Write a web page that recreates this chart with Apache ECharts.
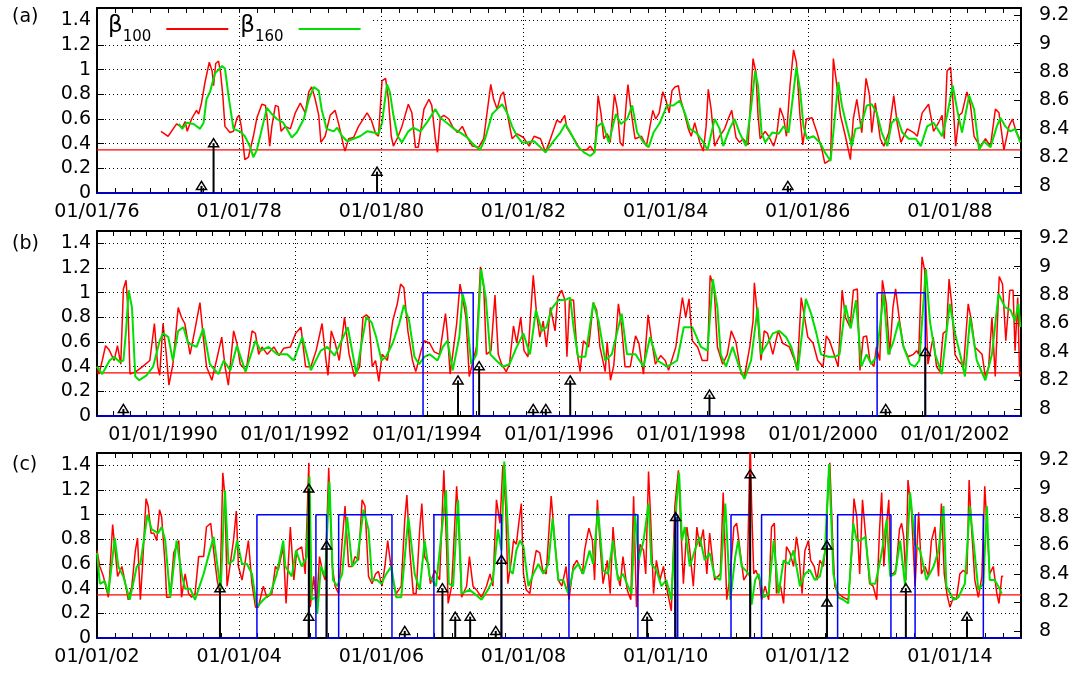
<!DOCTYPE html>
<html><head><meta charset="utf-8">
<script src="https://cdn.jsdelivr.net/npm/echarts@6/dist/echarts.min.js"></script>
<style>html,body{margin:0;padding:0;background:#fff}#c{width:1086px;height:673px}</style>
</head><body><div id="c"></div>
<script>
// ---------------- data ----------------
const THRESHOLD = 0.35;
const RANGE_A = [1976, 1989], RANGE_B = [1989, 2003], RANGE_C = [2002, 2015];
const TICKS_A = [1976,1978,1980,1982,1984,1986,1988];
const LABELS_A = ['01/01/76','01/01/78','01/01/80','01/01/82','01/01/84','01/01/86','01/01/88'];
const TICKS_B = [1990,1992,1994,1996,1998,2000,2002];
const LABELS_B = ['01/01/1990','01/01/1992','01/01/1994','01/01/1996','01/01/1998','01/01/2000','01/01/2002'];
const TICKS_C = [2002,2004,2006,2008,2010,2012,2014];
const LABELS_C = ['01/01/02','01/01/04','01/01/06','01/01/08','01/01/10','01/01/12','01/01/14'];

const RED_A = [[1976.90,0.50],[1977.0,0.46],[1977.12,0.56],[1977.20,0.53],[1977.24,0.58],[1977.27,0.50],[1977.33,0.60],[1977.40,0.67],[1977.43,0.64],[1977.47,0.73],[1977.52,0.90],[1977.58,1.06],[1977.62,0.99],[1977.64,0.87],[1977.67,1.05],[1977.71,1.07],[1977.74,0.97],[1977.77,0.79],[1977.80,0.54],[1977.87,0.49],[1977.92,0.50],[1977.97,0.61],[1978.0,0.63],[1978.03,0.54],[1978.08,0.27],[1978.13,0.29],[1978.20,0.46],[1978.25,0.61],[1978.32,0.72],[1978.37,0.71],[1978.39,0.63],[1978.43,0.38],[1978.46,0.54],[1978.51,0.71],[1978.55,0.70],[1978.59,0.50],[1978.65,0.54],[1978.72,0.52],[1978.79,0.65],[1978.86,0.73],[1978.93,0.65],[1978.98,0.82],[1979.02,0.86],[1979.07,0.76],[1979.12,0.63],[1979.15,0.41],[1979.21,0.46],[1979.28,0.63],[1979.35,0.67],[1979.40,0.56],[1979.47,0.38],[1979.49,0.34],[1979.54,0.44],[1979.61,0.45],[1979.68,0.54],[1979.80,0.65],[1979.86,0.59],[1979.92,0.48],[1979.96,0.46],[1980.01,0.91],[1980.06,0.93],[1980.10,0.76],[1980.14,0.46],[1980.17,0.38],[1980.23,0.45],[1980.29,0.54],[1980.38,0.72],[1980.43,0.65],[1980.48,0.37],[1980.52,0.37],[1980.60,0.68],[1980.67,0.76],[1980.71,0.71],[1980.76,0.44],[1980.79,0.33],[1980.83,0.61],[1980.88,0.63],[1980.95,0.60],[1981.00,0.54],[1981.07,0.49],[1981.14,0.54],[1981.21,0.45],[1981.28,0.38],[1981.37,0.37],[1981.44,0.44],[1981.54,0.88],[1981.58,0.76],[1981.63,0.68],[1981.68,0.79],[1981.72,0.82],[1981.77,0.65],[1981.84,0.44],[1981.91,0.48],[1982.0,0.45],[1982.08,0.38],[1982.15,0.46],[1982.24,0.44],[1982.31,0.33],[1982.38,0.44],[1982.47,0.59],[1982.52,0.57],[1982.58,0.63],[1982.61,0.53],[1982.71,0.44],[1982.80,0.35],[1982.89,0.35],[1982.94,0.38],[1983.0,0.33],[1983.02,0.49],[1983.05,0.79],[1983.09,0.65],[1983.13,0.44],[1983.18,0.48],[1983.22,0.41],[1983.28,0.80],[1983.32,0.68],[1983.36,0.41],[1983.40,0.38],[1983.45,0.76],[1983.47,0.88],[1983.52,0.64],[1983.57,0.44],[1983.66,0.46],[1983.73,0.38],[1983.78,0.54],[1983.82,0.67],[1983.86,0.60],[1983.91,0.65],[1983.96,0.82],[1984.0,0.76],[1984.05,0.65],[1984.09,0.83],[1984.13,0.86],[1984.18,0.87],[1984.21,0.76],[1984.25,0.68],[1984.32,0.52],[1984.36,0.46],[1984.41,0.57],[1984.48,0.41],[1984.53,0.34],[1984.57,0.54],[1984.60,0.84],[1984.64,0.68],[1984.69,0.38],[1984.76,0.46],[1984.83,0.52],[1984.88,0.60],[1984.93,0.67],[1984.99,0.45],[1985.04,0.41],[1985.09,0.44],[1985.16,0.39],[1985.20,0.79],[1985.23,1.09],[1985.27,0.98],[1985.30,0.63],[1985.33,0.44],[1985.40,0.50],[1985.45,0.46],[1985.52,0.38],[1985.56,0.46],[1985.61,0.69],[1985.66,0.61],[1985.70,0.46],[1985.75,0.87],[1985.80,1.16],[1985.84,1.06],[1985.89,0.63],[1985.93,0.39],[1985.98,0.60],[1986.06,0.61],[1986.13,0.49],[1986.20,0.35],[1986.24,0.24],[1986.32,0.27],[1986.36,1.09],[1986.41,0.87],[1986.46,0.63],[1986.53,0.46],[1986.60,0.27],[1986.64,0.60],[1986.69,0.76],[1986.76,0.49],[1986.82,0.93],[1986.87,0.79],[1986.90,0.49],[1986.95,0.73],[1987.02,0.44],[1987.07,0.38],[1987.14,0.49],[1987.21,0.79],[1987.26,0.56],[1987.31,0.41],[1987.40,0.52],[1987.49,0.49],[1987.54,0.46],[1987.61,0.65],[1987.70,0.72],[1987.77,0.50],[1987.84,0.57],[1987.89,0.63],[1987.92,0.44],[1987.96,0.99],[1988.01,1.02],[1988.05,0.68],[1988.08,0.38],[1988.13,0.63],[1988.17,0.65],[1988.24,0.82],[1988.29,0.71],[1988.34,0.46],[1988.39,0.41],[1988.43,0.38],[1988.50,0.44],[1988.57,0.38],[1988.64,0.68],[1988.69,0.65],[1988.76,0.35],[1988.83,0.54],[1988.88,0.60],[1988.93,0.50],[1988.98,0.44]];

const GREEN_A = [[1977.15,0.56],[1977.20,0.52],[1977.26,0.57],[1977.36,0.56],[1977.45,0.52],[1977.50,0.57],[1977.54,0.76],[1977.59,0.82],[1977.66,0.97],[1977.76,1.03],[1977.80,1.01],[1977.85,0.79],[1977.92,0.52],[1978.01,0.50],[1978.08,0.46],[1978.15,0.38],[1978.20,0.29],[1978.25,0.35],[1978.32,0.52],[1978.39,0.69],[1978.46,0.64],[1978.53,0.60],[1978.62,0.57],[1978.67,0.52],[1978.74,0.45],[1978.81,0.49],[1978.91,0.60],[1978.98,0.76],[1979.05,0.86],[1979.12,0.83],[1979.16,0.68],[1979.23,0.52],[1979.33,0.50],[1979.38,0.53],[1979.45,0.46],[1979.52,0.42],[1979.61,0.44],[1979.70,0.46],[1979.80,0.50],[1979.89,0.49],[1979.96,0.48],[1980.01,0.57],[1980.08,0.88],[1980.12,0.82],[1980.17,0.63],[1980.23,0.46],[1980.29,0.41],[1980.38,0.50],[1980.45,0.53],[1980.55,0.50],[1980.64,0.57],[1980.76,0.68],[1980.83,0.61],[1980.92,0.57],[1981.02,0.52],[1981.11,0.49],[1981.21,0.45],[1981.30,0.39],[1981.39,0.35],[1981.46,0.44],[1981.56,0.64],[1981.63,0.68],[1981.70,0.72],[1981.77,0.65],[1981.84,0.54],[1981.91,0.46],[1981.98,0.41],[1982.05,0.41],[1982.15,0.42],[1982.24,0.37],[1982.31,0.33],[1982.41,0.41],[1982.52,0.49],[1982.59,0.56],[1982.66,0.49],[1982.76,0.38],[1982.85,0.33],[1982.94,0.30],[1983.0,0.33],[1983.04,0.54],[1983.11,0.57],[1983.20,0.41],[1983.30,0.64],[1983.37,0.56],[1983.46,0.60],[1983.53,0.71],[1983.60,0.49],[1983.69,0.41],[1983.76,0.37],[1983.83,0.49],[1983.92,0.57],[1984.02,0.71],[1984.11,0.71],[1984.20,0.75],[1984.27,0.65],[1984.34,0.52],[1984.43,0.49],[1984.52,0.42],[1984.59,0.35],[1984.69,0.60],[1984.76,0.52],[1984.81,0.38],[1984.90,0.52],[1984.97,0.60],[1985.04,0.49],[1985.13,0.38],[1985.20,0.68],[1985.26,0.99],[1985.30,0.87],[1985.35,0.49],[1985.40,0.41],[1985.50,0.49],[1985.59,0.48],[1985.66,0.54],[1985.73,0.49],[1985.77,0.68],[1985.84,1.02],[1985.89,0.84],[1985.94,0.54],[1985.99,0.44],[1986.08,0.46],[1986.17,0.41],[1986.24,0.33],[1986.32,0.26],[1986.36,0.49],[1986.43,0.90],[1986.48,0.71],[1986.55,0.54],[1986.62,0.38],[1986.67,0.52],[1986.74,0.53],[1986.83,0.71],[1986.90,0.72],[1986.97,0.65],[1987.04,0.49],[1987.12,0.38],[1987.18,0.57],[1987.26,0.61],[1987.33,0.49],[1987.42,0.44],[1987.52,0.44],[1987.59,0.38],[1987.68,0.54],[1987.77,0.57],[1987.89,0.46],[1987.96,0.63],[1988.04,0.87],[1988.10,0.68],[1988.17,0.49],[1988.27,0.79],[1988.34,0.68],[1988.41,0.35],[1988.48,0.42],[1988.57,0.37],[1988.66,0.54],[1988.71,0.61],[1988.78,0.54],[1988.85,0.50],[1988.92,0.52],[1988.99,0.41]];

const RED_B = [[1989.0,0.40],[1989.03,0.34],[1989.08,0.45],[1989.13,0.57],[1989.18,0.54],[1989.26,0.45],[1989.31,0.57],[1989.36,0.42],[1989.40,1.03],[1989.44,1.10],[1989.47,0.86],[1989.50,0.34],[1989.59,0.36],[1989.69,0.40],[1989.80,0.45],[1989.87,0.75],[1989.92,0.40],[1989.95,0.33],[1990.0,0.75],[1990.05,0.50],[1990.09,0.25],[1990.15,0.42],[1990.23,0.88],[1990.28,0.80],[1990.33,0.75],[1990.41,0.50],[1990.48,0.69],[1990.56,0.92],[1990.61,0.64],[1990.66,0.40],[1990.74,0.29],[1990.81,0.45],[1990.89,0.64],[1990.94,0.40],[1990.99,0.25],[1991.07,0.69],[1991.12,0.59],[1991.17,0.42],[1991.26,0.37],[1991.35,0.69],[1991.40,0.67],[1991.45,0.50],[1991.50,0.56],[1991.58,0.50],[1991.68,0.56],[1991.76,0.49],[1991.83,0.55],[1991.93,0.56],[1992.01,0.67],[1992.09,0.72],[1992.16,0.40],[1992.24,0.40],[1992.32,0.53],[1992.41,0.75],[1992.47,0.45],[1992.50,0.33],[1992.55,0.69],[1992.60,0.61],[1992.67,0.45],[1992.75,0.80],[1992.82,0.50],[1992.90,0.32],[1992.98,0.40],[1993.03,0.80],[1993.08,0.82],[1993.12,0.80],[1993.17,0.40],[1993.22,0.45],[1993.27,0.28],[1993.32,0.50],[1993.40,0.45],[1993.48,0.77],[1993.55,0.91],[1993.60,1.07],[1993.65,1.04],[1993.71,0.69],[1993.78,0.45],[1993.83,0.36],[1993.91,0.53],[1993.96,0.61],[1994.04,0.59],[1994.11,0.52],[1994.19,0.50],[1994.28,0.83],[1994.31,0.67],[1994.35,0.34],[1994.39,0.50],[1994.45,0.75],[1994.50,1.07],[1994.54,0.96],[1994.59,0.80],[1994.64,0.32],[1994.70,0.45],[1994.75,0.56],[1994.81,1.21],[1994.86,1.04],[1994.90,0.50],[1994.97,0.53],[1995.03,0.98],[1995.08,0.50],[1995.13,0.42],[1995.20,0.36],[1995.25,0.42],[1995.31,0.73],[1995.36,0.59],[1995.42,0.80],[1995.47,0.53],[1995.53,0.48],[1995.57,0.83],[1995.61,1.14],[1995.66,0.83],[1995.71,0.64],[1995.76,0.77],[1995.81,0.56],[1995.87,0.88],[1995.94,0.69],[1995.98,0.96],[1996.04,1.02],[1996.09,0.94],[1996.12,0.48],[1996.16,0.94],[1996.22,0.94],[1996.27,0.53],[1996.32,0.36],[1996.37,0.61],[1996.45,0.56],[1996.52,0.92],[1996.57,0.86],[1996.62,0.56],[1996.70,0.36],[1996.73,0.60],[1996.78,0.29],[1996.83,0.41],[1996.90,0.91],[1996.95,0.72],[1997.0,0.40],[1997.08,0.40],[1997.16,0.65],[1997.21,0.59],[1997.28,0.34],[1997.35,0.82],[1997.41,0.59],[1997.46,0.42],[1997.54,0.49],[1997.61,0.45],[1997.66,0.37],[1997.77,0.56],[1997.87,0.96],[1997.92,0.80],[1997.97,0.95],[1998.02,0.61],[1998.10,0.56],[1998.17,0.45],[1998.25,0.45],[1998.29,1.14],[1998.35,1.04],[1998.40,0.56],[1998.48,0.42],[1998.55,0.50],[1998.61,0.69],[1998.68,0.60],[1998.76,0.34],[1998.81,0.32],[1998.89,0.56],[1998.94,0.77],[1998.96,1.08],[1999.01,0.80],[1999.06,0.45],[1999.11,0.69],[1999.16,0.67],[1999.24,0.50],[1999.32,0.69],[1999.39,0.59],[1999.49,0.56],[1999.57,0.45],[1999.61,0.37],[1999.67,0.96],[1999.72,0.80],[1999.77,0.64],[1999.85,0.59],[1999.92,0.45],[2000.0,0.40],[2000.05,0.65],[2000.10,0.61],[2000.18,0.48],[2000.23,0.40],[2000.29,1.02],[2000.34,0.80],[2000.41,0.72],[2000.46,1.02],[2000.52,1.03],[2000.56,0.37],[2000.61,0.64],[2000.66,0.65],[2000.71,0.45],[2000.77,0.40],[2000.81,0.56],[2000.86,0.45],[2000.90,1.10],[2000.96,0.91],[2001.01,0.50],[2001.06,0.88],[2001.10,1.03],[2001.16,0.77],[2001.22,0.56],[2001.29,0.48],[2001.37,0.50],[2001.42,0.53],[2001.45,0.50],[2001.50,1.29],[2001.54,1.18],[2001.59,0.42],[2001.67,0.64],[2001.72,0.40],[2001.77,0.36],[2001.82,0.67],[2001.87,0.69],[2001.91,1.11],[2001.95,0.91],[2002.0,0.50],[2002.05,0.45],[2002.13,0.40],[2002.20,0.91],[2002.25,0.77],[2002.30,0.56],[2002.41,0.50],[2002.46,0.32],[2002.51,0.40],[2002.56,0.80],[2002.61,0.32],[2002.67,1.13],[2002.72,1.07],[2002.77,0.61],[2002.83,1.02],[2002.88,1.02],[2002.91,0.53],[2002.95,0.96],[2002.98,0.32]];

const GREEN_B = [[1989.0,0.40],[1989.08,0.34],[1989.19,0.45],[1989.26,0.48],[1989.34,0.44],[1989.40,0.45],[1989.44,0.69],[1989.48,1.02],[1989.53,0.88],[1989.58,0.32],[1989.64,0.29],[1989.75,0.33],[1989.85,0.40],[1989.95,0.61],[1990.0,0.67],[1990.08,0.64],[1990.15,0.45],[1990.23,0.69],[1990.31,0.72],[1990.38,0.59],[1990.51,0.56],[1990.61,0.71],[1990.71,0.42],[1990.84,0.34],[1990.92,0.45],[1991.02,0.37],[1991.12,0.57],[1991.25,0.36],[1991.40,0.61],[1991.48,0.53],[1991.60,0.56],[1991.73,0.50],[1991.88,0.50],[1991.98,0.45],[1992.11,0.64],[1992.24,0.37],[1992.39,0.53],[1992.49,0.56],[1992.60,0.49],[1992.80,0.72],[1992.93,0.34],[1993.0,0.56],[1993.08,0.80],[1993.16,0.76],[1993.23,0.64],[1993.31,0.45],[1993.38,0.48],[1993.48,0.59],[1993.58,0.75],[1993.65,0.90],[1993.73,0.77],[1993.81,0.48],[1993.88,0.42],[1993.96,0.48],[1994.04,0.50],[1994.16,0.45],[1994.24,0.56],[1994.31,0.61],[1994.39,0.37],[1994.49,0.64],[1994.54,0.99],[1994.59,0.88],[1994.67,0.42],[1994.75,0.50],[1994.82,1.19],[1994.89,0.96],[1994.96,0.50],[1995.05,0.45],[1995.15,0.40],[1995.25,0.42],[1995.36,0.56],[1995.46,0.67],[1995.56,0.50],[1995.65,0.86],[1995.74,0.69],[1995.81,0.72],[1995.89,0.87],[1995.99,0.94],[1996.09,0.94],[1996.17,0.96],[1996.22,0.72],[1996.29,0.48],[1996.40,0.48],[1996.52,0.92],[1996.60,0.77],[1996.70,0.45],[1996.80,0.50],[1996.95,0.83],[1997.03,0.50],[1997.16,0.50],[1997.28,0.40],[1997.38,0.64],[1997.49,0.45],[1997.64,0.40],[1997.79,0.45],[1997.89,0.72],[1998.02,0.72],[1998.15,0.56],[1998.25,0.53],[1998.33,1.11],[1998.40,0.88],[1998.45,0.50],[1998.53,0.40],[1998.63,0.56],[1998.73,0.40],[1998.81,0.30],[1998.91,0.45],[1999.01,0.88],[1999.06,0.50],[1999.16,0.59],[1999.24,0.67],[1999.34,0.69],[1999.44,0.64],[1999.52,0.56],[1999.62,0.37],[1999.74,0.95],[1999.82,0.83],[1999.90,0.67],[1999.97,0.50],[2000.08,0.48],[2000.18,0.48],[2000.25,0.50],[2000.34,0.90],[2000.42,0.71],[2000.50,0.94],[2000.58,0.40],[2000.66,0.50],[2000.73,0.42],[2000.81,0.48],[2000.92,0.99],[2000.99,0.50],[2001.06,0.59],[2001.15,0.77],[2001.22,0.56],[2001.32,0.42],[2001.39,0.40],[2001.46,0.45],[2001.52,0.91],[2001.56,1.19],[2001.62,0.77],[2001.70,0.50],[2001.80,0.34],[2001.92,0.91],[2002.0,0.67],[2002.10,0.45],[2002.15,0.32],[2002.23,0.80],[2002.33,0.45],[2002.46,0.29],[2002.56,0.50],[2002.66,0.99],[2002.76,0.88],[2002.84,0.86],[2002.91,0.77],[2002.96,0.91],[2002.99,0.72]];

const RED_C = [[2002.0,0.71],[2002.04,0.58],[2002.09,0.50],[2002.16,0.33],[2002.22,0.92],[2002.25,0.74],[2002.29,0.50],[2002.35,0.58],[2002.39,0.47],[2002.44,0.31],[2002.49,0.42],[2002.54,0.71],[2002.57,0.81],[2002.61,0.31],[2002.64,0.58],[2002.69,1.13],[2002.72,1.07],[2002.76,0.85],[2002.80,0.85],[2002.84,0.79],[2002.88,1.04],[2002.91,0.98],[2002.96,0.58],[2002.98,0.33],[2003.03,0.33],[2003.08,0.69],[2003.15,0.79],[2003.19,0.33],[2003.24,0.52],[2003.29,0.36],[2003.33,0.33],[2003.38,0.36],[2003.43,0.66],[2003.50,0.66],[2003.54,0.90],[2003.60,0.93],[2003.64,0.71],[2003.69,0.47],[2003.73,0.36],[2003.77,1.34],[2003.80,1.15],[2003.83,0.42],[2003.87,0.58],[2003.92,0.79],[2003.96,1.03],[2003.99,0.58],[2004.04,0.47],[2004.08,0.60],[2004.13,0.79],[2004.18,0.44],[2004.23,0.25],[2004.27,0.25],[2004.34,0.42],[2004.39,0.33],[2004.46,0.36],[2004.51,0.58],[2004.55,0.55],[2004.62,0.74],[2004.66,0.28],[2004.72,0.90],[2004.77,0.47],[2004.81,0.71],[2004.88,0.74],[2004.93,0.52],[2004.98,1.42],[2005.0,0.25],[2005.05,0.50],[2005.09,0.25],[2005.13,0.66],[2005.18,0.52],[2005.21,0.47],[2005.26,1.38],[2005.31,0.58],[2005.35,0.42],[2005.40,0.36],[2005.45,0.79],[2005.49,1.07],[2005.54,0.58],[2005.59,0.58],[2005.63,0.66],[2005.68,0.63],[2005.73,1.12],[2005.77,1.07],[2005.82,0.50],[2005.87,0.44],[2005.92,0.52],[2005.96,0.54],[2006.01,0.42],[2006.05,0.58],[2006.09,0.79],[2006.16,0.47],[2006.21,0.36],[2006.28,0.42],[2006.33,0.96],[2006.36,1.16],[2006.40,0.71],[2006.45,0.36],[2006.49,0.36],[2006.54,0.88],[2006.57,1.09],[2006.61,0.66],[2006.66,0.60],[2006.69,0.44],[2006.75,0.55],[2006.82,0.47],[2006.88,1.36],[2006.92,0.71],[2006.94,0.28],[2006.99,0.42],[2007.06,1.23],[2007.09,0.90],[2007.13,0.33],[2007.20,0.42],[2007.24,0.66],[2007.29,0.42],[2007.34,0.39],[2007.41,0.33],[2007.48,0.42],[2007.53,0.52],[2007.57,0.42],[2007.62,1.12],[2007.67,0.93],[2007.71,1.40],[2007.75,1.07],[2007.78,0.44],[2007.83,0.63],[2007.86,0.79],[2007.90,0.76],[2007.94,0.96],[2007.97,1.09],[2008.0,0.52],[2008.04,0.39],[2008.09,0.36],[2008.14,0.58],[2008.18,0.71],[2008.23,0.69],[2008.27,0.55],[2008.32,0.52],[2008.39,1.15],[2008.44,0.79],[2008.49,0.47],[2008.54,0.42],[2008.60,0.58],[2008.64,0.31],[2008.70,0.58],[2008.75,0.63],[2008.79,0.58],[2008.83,0.52],[2008.86,0.71],[2008.92,0.89],[2008.97,0.79],[2009.0,0.47],[2009.04,1.12],[2009.08,0.74],[2009.12,0.44],[2009.18,0.63],[2009.22,0.36],[2009.26,0.90],[2009.31,0.55],[2009.36,0.42],[2009.40,0.66],[2009.46,0.39],[2009.51,0.31],[2009.55,1.15],[2009.59,0.25],[2009.64,0.76],[2009.69,0.71],[2009.72,0.52],[2009.76,1.35],[2009.79,0.96],[2009.83,0.36],[2009.87,0.63],[2009.92,0.47],[2009.97,0.58],[2010.01,0.42],[2010.08,0.22],[2010.13,1.07],[2010.18,1.36],[2010.21,0.96],[2010.25,0.44],[2010.30,0.90],[2010.34,0.71],[2010.39,0.42],[2010.44,0.90],[2010.48,0.74],[2010.53,0.88],[2010.58,0.52],[2010.62,0.85],[2010.69,0.47],[2010.77,0.52],[2010.81,1.18],[2010.86,0.31],[2010.91,0.52],[2010.96,0.90],[2011.0,0.93],[2011.03,0.79],[2011.10,0.47],[2011.15,0.52],[2011.19,1.60],[2011.21,1.07],[2011.24,0.52],[2011.27,0.55],[2011.32,0.47],[2011.35,0.31],[2011.40,0.42],[2011.45,0.31],[2011.49,0.90],[2011.53,0.93],[2011.56,0.36],[2011.61,0.44],[2011.66,0.28],[2011.70,0.74],[2011.75,0.69],[2011.80,0.58],[2011.84,0.82],[2011.87,0.71],[2011.92,0.36],[2011.96,0.71],[2012.01,0.79],[2012.04,0.63],[2012.09,0.58],[2012.13,0.47],[2012.17,0.63],[2012.22,0.58],[2012.26,0.82],[2012.29,1.28],[2012.31,1.42],[2012.35,0.79],[2012.38,0.42],[2012.43,0.36],[2012.50,0.33],[2012.57,0.31],[2012.62,0.71],[2012.65,1.13],[2012.69,0.98],[2012.73,0.52],[2012.77,1.12],[2012.82,0.79],[2012.87,0.44],[2012.92,0.42],[2012.97,0.31],[2013.01,0.88],[2013.04,1.18],[2013.07,0.58],[2013.11,0.93],[2013.14,1.12],[2013.17,0.52],[2013.20,0.52],[2013.24,0.55],[2013.29,0.88],[2013.32,0.93],[2013.35,0.82],[2013.38,0.47],[2013.41,1.28],[2013.46,1.02],[2013.51,0.42],[2013.56,1.02],[2013.60,0.52],[2013.65,0.58],[2013.70,0.50],[2013.74,0.79],[2013.79,0.90],[2013.84,0.50],[2013.88,1.09],[2013.92,0.52],[2013.96,0.35],[2014.0,0.25],[2014.05,0.33],[2014.09,0.31],[2014.14,0.52],[2014.19,0.55],[2014.24,0.52],[2014.27,1.28],[2014.30,0.93],[2014.35,0.47],[2014.40,0.33],[2014.45,0.50],[2014.49,1.23],[2014.53,0.82],[2014.56,0.52],[2014.61,0.58],[2014.66,0.36],[2014.69,0.28],[2014.73,0.50],[2014.75,0.50]];

const GREEN_C = [[2002.0,0.69],[2002.04,0.44],[2002.11,0.46],[2002.16,0.36],[2002.25,0.81],[2002.30,0.58],[2002.37,0.50],[2002.46,0.31],[2002.56,0.58],[2002.61,0.60],[2002.71,1.00],[2002.77,0.88],[2002.86,0.85],[2002.91,0.90],[2002.96,0.79],[2003.03,0.33],[2003.12,0.79],[2003.19,0.52],[2003.24,0.40],[2003.31,0.40],[2003.38,0.31],[2003.50,0.52],[2003.64,0.82],[2003.71,0.52],[2003.74,0.39],[2003.80,1.20],[2003.85,0.60],[2003.92,0.63],[2003.97,0.79],[2004.04,0.60],[2004.11,0.60],[2004.18,0.52],[2004.25,0.25],[2004.34,0.31],[2004.44,0.36],[2004.53,0.52],[2004.62,0.79],[2004.65,0.58],[2004.74,0.50],[2004.80,0.71],[2004.88,0.58],[2004.95,0.66],[2004.99,1.31],[2005.02,0.31],[2005.07,0.33],[2005.10,0.20],[2005.15,0.58],[2005.21,0.50],[2005.27,1.27],[2005.32,0.47],[2005.38,0.42],[2005.45,0.52],[2005.52,0.98],[2005.59,0.58],[2005.66,0.63],[2005.75,1.04],[2005.82,0.88],[2005.87,0.47],[2005.94,0.47],[2006.0,0.44],[2006.07,0.52],[2006.14,0.58],[2006.21,0.33],[2006.28,0.33],[2006.38,0.98],[2006.47,0.52],[2006.54,0.39],[2006.61,0.79],[2006.68,0.50],[2006.77,0.42],[2006.91,1.20],[2006.95,0.44],[2007.01,0.42],[2007.08,1.12],[2007.13,0.36],[2007.24,0.39],[2007.31,0.36],[2007.41,0.31],[2007.50,0.39],[2007.57,0.47],[2007.64,0.88],[2007.69,0.71],[2007.73,1.43],[2007.77,1.01],[2007.81,0.55],[2007.85,0.52],[2007.90,0.71],[2007.95,0.79],[2008.0,0.74],[2008.07,0.42],[2008.14,0.52],[2008.21,0.60],[2008.28,0.52],[2008.35,0.60],[2008.41,0.97],[2008.49,0.47],[2008.56,0.47],[2008.63,0.36],[2008.70,0.55],[2008.77,0.60],[2008.84,0.52],[2008.93,0.71],[2008.98,0.60],[2009.05,1.04],[2009.12,0.55],[2009.19,0.52],[2009.26,0.79],[2009.33,0.47],[2009.40,0.52],[2009.47,0.42],[2009.52,0.36],[2009.57,1.01],[2009.62,0.63],[2009.69,0.79],[2009.76,1.09],[2009.80,0.60],[2009.87,0.55],[2009.94,0.42],[2010.01,0.47],[2010.08,0.31],[2010.15,1.07],[2010.19,1.34],[2010.23,0.79],[2010.27,0.90],[2010.34,0.58],[2010.41,0.71],[2010.48,0.82],[2010.55,0.63],[2010.62,0.69],[2010.69,0.50],[2010.77,0.47],[2010.84,1.09],[2010.91,0.31],[2010.98,0.66],[2011.02,0.79],[2011.07,0.58],[2011.14,0.54],[2011.19,0.50],[2011.21,0.27],[2011.26,0.47],[2011.31,0.52],[2011.38,0.33],[2011.45,0.36],[2011.52,0.79],[2011.59,0.36],[2011.66,0.63],[2011.73,0.60],[2011.80,0.71],[2011.89,0.42],[2011.96,0.52],[2012.03,0.55],[2012.10,0.47],[2012.17,0.50],[2012.24,0.69],[2012.30,1.41],[2012.36,0.52],[2012.43,0.33],[2012.50,0.31],[2012.57,0.28],[2012.64,0.93],[2012.69,0.79],[2012.74,0.79],[2012.81,0.82],[2012.88,0.44],[2012.95,0.44],[2013.02,0.63],[2013.06,0.76],[2013.11,0.96],[2013.16,0.50],[2013.23,0.52],[2013.30,0.79],[2013.37,0.42],[2013.44,1.18],[2013.51,0.76],[2013.58,0.71],[2013.67,0.47],[2013.77,0.58],[2013.84,0.71],[2013.91,1.07],[2013.95,0.42],[2014.05,0.31],[2014.12,0.33],[2014.21,0.44],[2014.28,1.07],[2014.33,0.79],[2014.40,0.39],[2014.47,0.44],[2014.52,1.07],[2014.56,0.47],[2014.63,0.47],[2014.68,0.42],[2014.73,0.36]];

// alarm periods (blue indicator = 1 between start and end)
const ALARMS_A = [];
const ALARMS_B = [[1993.94,1994.70],[2000.82,2001.55]];
const ALARMS_C = [[2004.25,2004.98],[2005.08,2005.23],[2005.40,2006.15],[2006.74,2007.69],[2008.64,2009.61],[2010.13,2010.17],[2010.92,2011.19],[2011.35,2012.27],[2012.42,2013.17],[2013.51,2014.47]];

// earthquakes [time, magnitude]
const QUAKES_A = [[1977.47,8.0],[1977.64,8.3],[1979.94,8.1],[1985.72,8.0]];
const QUAKES_B = [[1989.40,8.0],[1994.47,8.2],[1994.79,8.3],[1995.61,8.0],[1995.80,8.0],[1996.17,8.2],[1998.28,8.1],[2000.95,8.0],[2001.55,8.4]];
const QUAKES_C = [[2003.73,8.3],[2004.98,9.0],[2004.98,8.1],[2005.23,8.6],[2006.33,8.0],[2006.86,8.3],[2007.04,8.1],[2007.25,8.1],[2007.61,8.0],[2007.69,8.5],[2009.74,8.1],[2010.14,8.8],[2011.19,9.1],[2012.27,8.6],[2012.27,8.2],[2013.38,8.3],[2014.24,8.1]];

// ---------------- chart ----------------
const FONT = 'DejaVu Sans';
const RED = '#ff0000', GREEN = '#00e000', BLUE = '#0000ff';
const panels = [
  {label:'(a)', range:RANGE_A, ticks:TICKS_A, labels:LABELS_A, red:RED_A, green:GREEN_A, alarms:ALARMS_A, quakes:QUAKES_A, top:8},
  {label:'(b)', range:RANGE_B, ticks:TICKS_B, labels:LABELS_B, red:RED_B, green:GREEN_B, alarms:ALARMS_B, quakes:QUAKES_B, top:231},
  {label:'(c)', range:RANGE_C, ticks:TICKS_C, labels:LABELS_C, red:RED_C, green:GREEN_C, alarms:ALARMS_C, quakes:QUAKES_C, top:453}
];
const GRID_LEFT = 97, GRID_W = 924, GRID_H = 185;
const M_MIN = 7.95, M_MAX = 9.25;

const grids = [], xAxes = [], yAxes = [], series = [], graphics = [];
const black = '#000';
function dotted() { return {color: black, width: 1, type: [1, 3]}; }

function stepData(range, alarms) {
  const d = [[range[0], 0]];
  alarms.forEach(([s, e]) => { d.push([s, 0], [s, 1], [e, 1], [e, 0]); });
  d.push([range[1], 0]);
  return d;
}
function renderStem(params, api) {
  const x = api.value(0), m = api.value(1);
  const p = api.coord([x, m]);
  const cs = params.coordSys;
  const bottom = cs.y + cs.height;
  return {type: 'group', children: [
    {type: 'line', shape: {x1: p[0], y1: bottom, x2: p[0], y2: p[1]}, style: {stroke: black, lineWidth: 2}},
    {type: 'polygon', shape: {points: [[p[0], p[1] - 4.5], [p[0] - 5, p[1] + 3.5], [p[0] + 5, p[1] + 3.5]]},
     style: {fill: 'none', stroke: black, lineWidth: 1.5}}
  ]};
}

panels.forEach((P, i) => {
  grids.push({left: GRID_LEFT, top: P.top, width: GRID_W, height: GRID_H, outerBoundsMode: 'none', containLabel: false});
  const baseX = {
    gridIndex: i, type: 'value', min: P.range[0], max: P.range[1], interval: 1,
    axisLine: {show: true, onZero: false, lineStyle: {color: black, width: 2}},
    axisTick: {show: true, inside: true, length: 5, lineStyle: {color: black, width: 1}},
    minorTick: {show: true, splitNumber: 4, length: 5, lineStyle: {color: black, width: 1}},
    splitLine: {show: false}, minorSplitLine: {show: false}
  };
  xAxes.push(Object.assign({}, baseX, {
    position: 'bottom',
    axisLabel: {show: true, margin: 10, color: black, fontFamily: FONT, fontSize: 19,
      showMinLabel: true, showMaxLabel: true,
      formatter: v => { const k = P.ticks.indexOf(Math.round(v)); return k >= 0 ? P.labels[k] : ''; }}
  }));
  xAxes.push(Object.assign({}, baseX, {position: 'top', axisLabel: {show: false}}));
  yAxes.push({
    gridIndex: i, type: 'value', min: 0, max: 1.5, interval: 0.2, position: 'left',
    axisLine: {show: true, onZero: false, lineStyle: {color: black, width: 2}},
    axisTick: {show: true, inside: true, length: 7, lineStyle: {color: black}},
    axisLabel: {margin: 6, color: black, fontFamily: FONT, fontSize: 19, showMaxLabel: false,
      formatter: v => String(Math.round(v * 10) / 10)},
    splitLine: {show: true, lineStyle: dotted()}
  });
  yAxes.push({
    gridIndex: i, type: 'value', min: M_MIN, max: M_MAX, splitNumber: 6, minInterval: 0.2, maxInterval: 0.2, position: 'right',
    axisLine: {show: true, onZero: false, lineStyle: {color: black, width: 2}},
    axisTick: {show: true, inside: true, length: 7, lineStyle: {color: black}},
    axisLabel: {margin: 18, color: black, fontFamily: FONT, fontSize: 19, showMinLabel: false, showMaxLabel: false,
      formatter: v => String(Math.round(v * 10) / 10)},
    splitLine: {show: false}
  });
  const xi = 2 * i, yl = 2 * i, yr = 2 * i + 1;
  // vertical grid lines at the labelled years
  series.push({
    type: 'line', xAxisIndex: xi, yAxisIndex: yl, data: [], silent: true, z: 1,
    markLine: {silent: true, symbol: ['none', 'none'], animation: false, label: {show: false},
      lineStyle: dotted(),
      data: P.ticks.filter(t => t > P.range[0] && t < P.range[1]).map(t => ({xAxis: t}))}
  });
  // threshold line
  series.push({type: 'line', xAxisIndex: xi, yAxisIndex: yl, data: [[P.range[0], THRESHOLD], [P.range[1], THRESHOLD]],
    symbol: 'none', showSymbol: false, silent: true, z: 2,
    lineStyle: {color: RED, width: 1.2, type: 'solid'}, itemStyle: {color: RED}});
  series.push({name: 'β100', type: 'line', xAxisIndex: xi, yAxisIndex: yl, data: P.red, symbol: 'none', showSymbol: false,
    lineStyle: {color: RED, width: 1.5}, itemStyle: {color: RED}, z: 3, silent: true});
  series.push({name: 'β160', type: 'line', xAxisIndex: xi, yAxisIndex: yl, data: P.green, symbol: 'none', showSymbol: false,
    lineStyle: {color: GREEN, width: 2}, itemStyle: {color: GREEN}, z: 4, silent: true});
  series.push({type: 'line', xAxisIndex: xi, yAxisIndex: yl, data: stepData(P.range, P.alarms), symbol: 'none', showSymbol: false,
    lineStyle: {color: BLUE, width: 1.5}, itemStyle: {color: BLUE}, z: 5, silent: true, clip: false});
  series.push({type: 'custom', xAxisIndex: xi, yAxisIndex: yr, data: P.quakes, encode: {x: 0, y: 1},
    renderItem: renderStem, z: 6, silent: true, clip: false});
});

const panelLabelTops = [8, 235, 456];
panels.forEach((P, i) => {
  graphics.push({type: 'text', left: 12, top: panelLabelTops[i],
    style: {text: P.label, font: '19px "DejaVu Sans"', fill: black}});
});

const chart = echarts.init(document.getElementById('c'), null, {renderer: 'canvas'});
chart.setOption({
  animation: false,
  backgroundColor: '#fff',
  grid: grids, xAxis: xAxes, yAxis: yAxes, series: series, graphic: graphics,
  legend: {
    data: ['β100', 'β160'], left: 98, top: 15, orient: 'horizontal', align: 'right',
    icon: 'rect', itemWidth: 62, itemHeight: 2, itemGap: 12,
    backgroundColor: '#fff', padding: [0, 10, 0, 10], selectedMode: false,
    formatter: name => '{g|β}{s|' + name.slice(1) + '}',
    textStyle: {color: black, fontFamily: FONT, padding: [0, 0, 0, 0],
      rich: {
        g: {fontSize: 23, fontFamily: FONT, color: black, lineHeight: 28, verticalAlign: 'top'},
        s: {fontSize: 15, fontFamily: FONT, color: black, lineHeight: 15, padding: [15, 10, 0, 0], verticalAlign: 'top'}
      }}
  }
});
</script>
</body></html>
